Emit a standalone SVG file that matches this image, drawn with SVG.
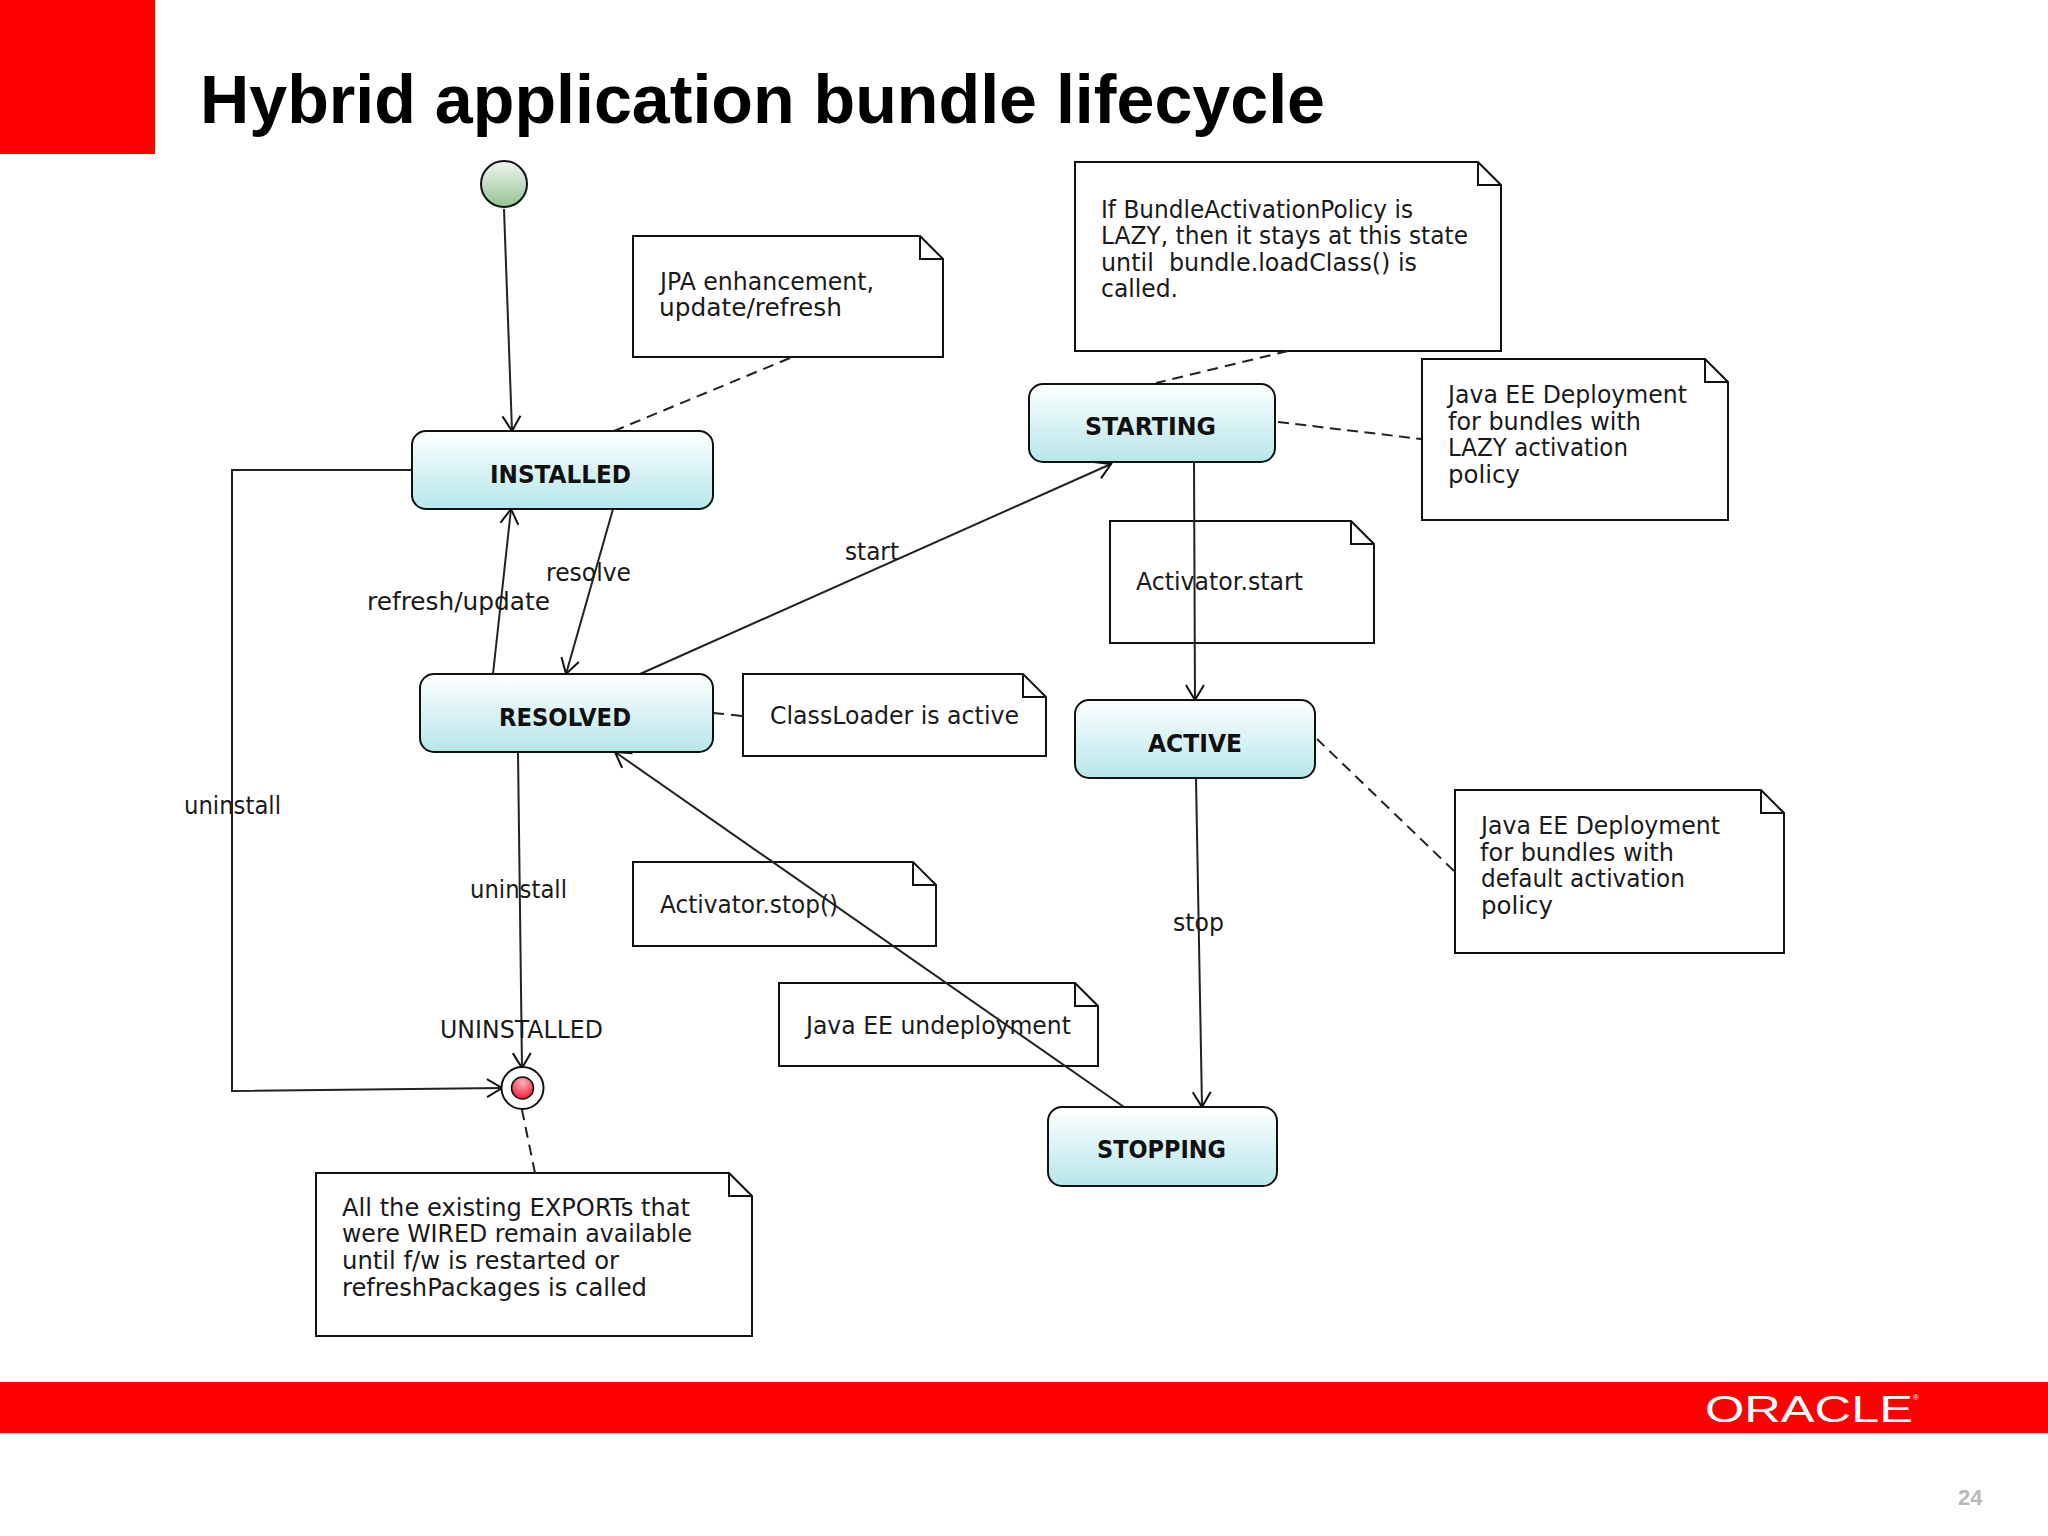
<svg xmlns="http://www.w3.org/2000/svg" width="2048" height="1536" viewBox="0 0 2048 1536">
<style>
text{font-family:"DejaVu Sans","Liberation Sans",sans-serif;fill:#1a1a1a}
.t{font-size:24px;font-weight:normal}
.b{font-size:24px;font-weight:bold;fill:#111}
.n{fill:#fff;stroke:#111;stroke-width:2}
.f{fill:none;stroke:#111;stroke-width:2}
.s{fill:url(#sg);stroke:#111;stroke-width:2}
.c{fill:none;stroke:#222;stroke-width:2}
.a{marker-end:url(#arr)}
.d{stroke-dasharray:11 7}
</style>
<defs>
<linearGradient id="sg" x1="0" y1="0" x2="0" y2="1"><stop offset="0" stop-color="#ffffff"/><stop offset="1" stop-color="#b6e6ea"/></linearGradient>
<linearGradient id="ig" x1="0" y1="0" x2="0" y2="1"><stop offset="0" stop-color="#f2f6f0"/><stop offset="1" stop-color="#93c296"/></linearGradient>
<radialGradient id="eg" cx="0.5" cy="0.25" r="0.8"><stop offset="0" stop-color="#ffb0b8"/><stop offset="1" stop-color="#f01030"/></radialGradient>
<marker id="arr" markerUnits="userSpaceOnUse" markerWidth="24" markerHeight="24" refX="18" refY="12" orient="auto"><path d="M3 3L18 12L3 21" fill="none" stroke="#111" stroke-width="2"/></marker>
</defs>
<rect width="2048" height="1536" fill="#fff"/>
<rect id="corner" x="0" y="0" width="155" height="154" fill="#f00"/>
<text x="200" y="123" textLength="1125" lengthAdjust="spacingAndGlyphs" style="font-family:'Liberation Sans',Arial,sans-serif;font-size:68px;font-weight:bold;fill:#000">Hybrid application bundle lifecycle</text>
<rect id="footer" x="0" y="1382" width="2048" height="51" fill="#f00"/>
<text x="1705" y="1422" textLength="208" lengthAdjust="spacingAndGlyphs" style="font-family:'Liberation Sans',Arial,sans-serif;font-size:37px;fill:#fff">ORACLE</text>
<text x="1913" y="1400" style="font-family:'Liberation Sans',Arial,sans-serif;font-size:8px;fill:#fff">®</text>
<text x="1958" y="1505" style="font-family:'Liberation Sans',Arial,sans-serif;font-size:22px;font-weight:bold;fill:#b8b8bc">24</text>

<g id="note-jpa"><path class="n" d="M633 236H920L943 259V357H633Z"/><path class="f" d="M920 236V259H943"/>
<text class="t" x="660" y="290" textLength="214" lengthAdjust="spacingAndGlyphs">JPA enhancement,</text><text class="t" x="659" y="316" textLength="183" lengthAdjust="spacingAndGlyphs">update/refresh</text></g>
<g id="note-lazy-state"><path class="n" d="M1075 162H1478L1501 185V351H1075Z"/><path class="f" d="M1478 162V185H1501"/>
<text class="t" x="1101" y="218" textLength="312" lengthAdjust="spacingAndGlyphs">If BundleActivationPolicy is</text><text class="t" x="1101" y="244" textLength="367" lengthAdjust="spacingAndGlyphs">LAZY, then it stays at this state</text><text class="t" x="1101" y="271" textLength="316" lengthAdjust="spacingAndGlyphs" xml:space="preserve">until  bundle.loadClass() is</text><text class="t" x="1101" y="297" textLength="77" lengthAdjust="spacingAndGlyphs">called.</text></g>
<g id="note-lazy-deploy"><path class="n" d="M1422 359H1705L1728 382V520H1422Z"/><path class="f" d="M1705 359V382H1728"/>
<text class="t" x="1448" y="403" textLength="239" lengthAdjust="spacingAndGlyphs">Java EE Deployment</text><text class="t" x="1448" y="430" textLength="193" lengthAdjust="spacingAndGlyphs">for bundles with</text><text class="t" x="1448" y="456" textLength="180" lengthAdjust="spacingAndGlyphs">LAZY activation</text><text class="t" x="1448" y="483" textLength="72" lengthAdjust="spacingAndGlyphs">policy</text></g>
<g id="note-start"><path class="n" d="M1110 521H1351L1374 544V643H1110Z"/><path class="f" d="M1351 521V544H1374"/>
<text class="t" x="1136" y="590" textLength="167" lengthAdjust="spacingAndGlyphs">Activator.start</text></g>
<g id="note-classloader"><path class="n" d="M743 674H1023L1046 697V756H743Z"/><path class="f" d="M1023 674V697H1046"/>
<text class="t" x="770" y="724" textLength="249" lengthAdjust="spacingAndGlyphs">ClassLoader is active</text></g>
<g id="note-stop"><path class="n" d="M633 862H913L936 885V946H633Z"/><path class="f" d="M913 862V885H936"/>
<text class="t" x="660" y="913" textLength="178" lengthAdjust="spacingAndGlyphs">Activator.stop()</text></g>
<g id="note-undeploy"><path class="n" d="M779 983H1075L1098 1006V1066H779Z"/><path class="f" d="M1075 983V1006H1098"/>
<text class="t" x="806" y="1034" textLength="265" lengthAdjust="spacingAndGlyphs">Java EE undeployment</text></g>
<g id="note-default"><path class="n" d="M1455 790H1761L1784 813V953H1455Z"/><path class="f" d="M1761 790V813H1784"/>
<text class="t" x="1481" y="834" textLength="239" lengthAdjust="spacingAndGlyphs">Java EE Deployment</text><text class="t" x="1480" y="861" textLength="194" lengthAdjust="spacingAndGlyphs">for bundles with</text><text class="t" x="1481" y="887" textLength="204" lengthAdjust="spacingAndGlyphs">default activation</text><text class="t" x="1481" y="914" textLength="72" lengthAdjust="spacingAndGlyphs">policy</text></g>
<g id="note-exports"><path class="n" d="M316 1173H729L752 1196V1336H316Z"/><path class="f" d="M729 1173V1196H752"/>
<text class="t" x="342" y="1216" textLength="348" lengthAdjust="spacingAndGlyphs">All the existing EXPORTs that</text><text class="t" x="342" y="1242" textLength="350" lengthAdjust="spacingAndGlyphs">were WIRED remain available</text><text class="t" x="342" y="1269" textLength="277" lengthAdjust="spacingAndGlyphs">until f/w is restarted or</text><text class="t" x="342" y="1296" textLength="305" lengthAdjust="spacingAndGlyphs">refreshPackages is called</text></g>

<g id="connectors">
<path class="c a" d="M504 209L512 431"/>
<path class="c a" d="M613 509L566 674"/>
<path class="c a" d="M493 674L511 509"/>
<path class="c a" d="M640 674L1111 464"/>
<path class="c a" d="M411 470H232V1091L502 1088"/>
<path class="c a" d="M518 752L522 1068"/>
<path class="c a" d="M1194 462L1195 700"/>
<path class="c a" d="M1196 778L1202 1107"/>
<path class="c a" d="M1124 1107L615 752"/>
<path class="c d" d="M790 358L614 431"/>
<path class="c d" d="M1288 351L1156 383"/>
<path class="c d" style="stroke-dasharray:11 6.4" d="M1278 422L1421 439"/>
<path class="c d" d="M713 713L743 716"/>
<path class="c d" d="M1454 871L1317 739"/>
<path class="c d" d="M535 1173L522 1110"/>
<text class="t" x="845" y="560" textLength="54" lengthAdjust="spacingAndGlyphs">start</text>
<text class="t" x="546" y="581" textLength="85" lengthAdjust="spacingAndGlyphs">resolve</text>
<text class="t" x="367" y="610" textLength="183" lengthAdjust="spacingAndGlyphs">refresh/update</text>
<text class="t" x="184" y="814" textLength="97" lengthAdjust="spacingAndGlyphs">uninstall</text>
<text class="t" x="470" y="898" textLength="97" lengthAdjust="spacingAndGlyphs">uninstall</text>
<text class="t" x="440" y="1038" textLength="163" lengthAdjust="spacingAndGlyphs">UNINSTALLED</text>
<text class="t" x="1173" y="931" textLength="51" lengthAdjust="spacingAndGlyphs">stop</text>
</g>

<g id="initial"><ellipse cx="504" cy="184" rx="23" ry="23" fill="url(#ig)" stroke="#111" stroke-width="2"/></g>
<g id="final"><circle cx="522.5" cy="1088" r="21" fill="#fff" stroke="#111" stroke-width="2"/><circle cx="522.5" cy="1088" r="11" fill="url(#eg)" stroke="#111" stroke-width="1.5"/></g>
<g id="installed"><rect class="s" x="412" y="431" width="301" height="78" rx="14"/><text class="b" x="490" y="483" textLength="141" lengthAdjust="spacingAndGlyphs">INSTALLED</text></g>
<g id="resolved"><rect class="s" x="420" y="674" width="293" height="78" rx="14"/><text class="b" x="499" y="726" textLength="132" lengthAdjust="spacingAndGlyphs">RESOLVED</text></g>
<g id="starting"><rect class="s" x="1029" y="384" width="246" height="78" rx="14"/><text class="b" x="1085" y="435" textLength="131" lengthAdjust="spacingAndGlyphs">STARTING</text></g>
<g id="active"><rect class="s" x="1075" y="700" width="240" height="78" rx="14"/><text class="b" x="1148" y="752" textLength="94" lengthAdjust="spacingAndGlyphs">ACTIVE</text></g>
<g id="stopping"><rect class="s" x="1048" y="1107" width="229" height="79" rx="14"/><text class="b" x="1097" y="1158" textLength="129" lengthAdjust="spacingAndGlyphs">STOPPING</text></g>
</svg>
